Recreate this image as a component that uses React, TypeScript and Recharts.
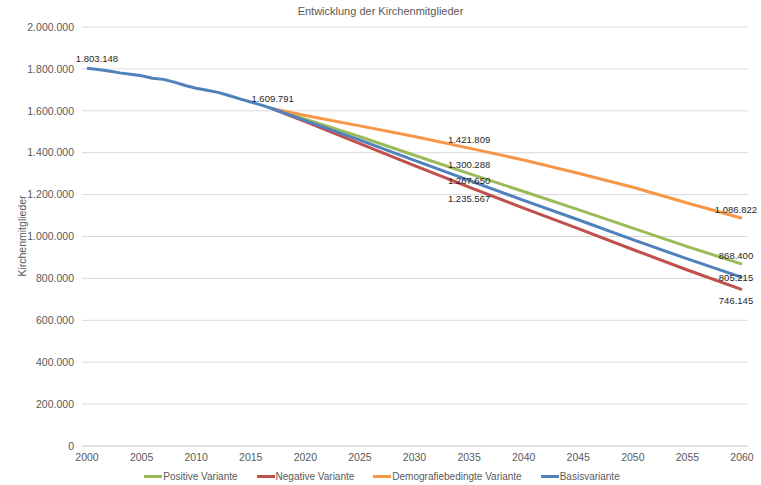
import { LineChart, Line, XAxis, YAxis, CartesianGrid, Legend } from "recharts";

const histYears = [2000, 2001, 2002, 2003, 2004, 2005, 2006, 2007, 2008, 2009, 2010, 2011, 2012, 2013, 2014, 2015, 2016, 2017];
const histValues = [1803148, 1797000, 1790000, 1781000, 1774000, 1767000, 1755000, 1750000, 1737000, 1721000, 1708000, 1698000, 1688000, 1673000, 1657000, 1642000, 1627000, 1609791];

const projYears = [2017, 2020, 2025, 2030, 2035, 2040, 2045, 2050, 2055, 2060];
const positiveValues = [1609791, 1560000, 1476000, 1388000, 1300288, 1215000, 1128000, 1040000, 952000, 868400];
const negativeValues = [1609791, 1548000, 1443000, 1338000, 1235567, 1135000, 1038000, 938000, 840000, 746145];
const demografieValues = [1609791, 1578000, 1528000, 1477000, 1421809, 1365000, 1302000, 1235000, 1160000, 1086822];
const basisValues = [1609791, 1553000, 1460000, 1363000, 1267650, 1172000, 1080000, 985000, 893000, 805215];

const xTicks = [2000, 2005, 2010, 2015, 2020, 2025, 2030, 2035, 2040, 2045, 2050, 2055, 2060];
const yTicks = [0, 200000, 400000, 600000, 800000, 1000000, 1200000, 1400000, 1600000, 1800000, 2000000];

// years that carry a data label
const labelYearsProj = [2035, 2060];
const labelYearsBasis = [2000, 2017, 2035, 2060];

const toRows = (years: number[], values: number[]) => years.map((year, i) => ({ year, v: values[i] }));

const positiveData = toRows(projYears, positiveValues);
const negativeData = toRows(projYears, negativeValues);
const demografieData = toRows(projYears, demografieValues);
const basisData = toRows(histYears, histValues).concat(toRows(projYears.slice(1), basisValues.slice(1)));

const FONT = "'Liberation Sans', Arial, sans-serif";
const fmt = (v: number) => String(v).replace(/\B(?=(\d{3})+(?!\d))/g, ".");

const series = [
  { name: "Positive Variante", color: "#9BBB59", data: positiveData, years: labelYearsProj, dy: -9 },
  { name: "Negative Variante", color: "#C0504D", data: negativeData, years: labelYearsProj, dy: 11 },
  { name: "Demografiebedingte Variante", color: "#F79646", data: demografieData, years: labelYearsProj, dy: -9 },
  { name: "Basisvariante", color: "#4F81BD", data: basisData, years: labelYearsBasis, dy: 0 },
];

function makeLabel(data: { year: number; v: number }[], years: number[], dy: number) {
  return (props: any) => {
    const { x, y, index } = props;
    const row = data[index];
    if (!row || !years.includes(row.year)) return null;
    let ddx = 0;
    let ddy = dy;
    if (row.year === 2000) {
      ddx = 10;
      ddy = -10;
    } else if (row.year === 2017) {
      ddy = -10;
    } else if (row.year === 2060) {
      ddx = -6;
    }
    return (
      <text
        key={`l-${index}`}
        x={x + ddx}
        y={y + ddy}
        textAnchor="middle"
        dominantBaseline="central"
        fontSize={9.5}
        fontFamily={FONT}
        fill="#262626"
      >
        {fmt(row.v)}
      </text>
    );
  };
}

function LegendContent() {
  return (
    <div
      style={{
        display: "flex",
        justifyContent: "center",
        gap: 19,
        fontFamily: FONT,
        fontSize: 10,
        color: "#595959",
        paddingLeft: 6,
        paddingTop: 5,
      }}
    >
      {series.map((s) => (
        <div key={s.name} style={{ display: "flex", alignItems: "center" }}>
          <span style={{ display: "inline-block", width: 18, height: 3, background: s.color, marginRight: 1 }} />
          <span>{s.name}</span>
        </div>
      ))}
    </div>
  );
}

export default function App() {
  return (
    <div style={{ position: "absolute", left: 0, top: 0, width: 761, height: 485, background: "#fff" }}>
      <div
        style={{
          position: "absolute",
          top: 5,
          left: 0,
          width: 761,
          textAlign: "center",
          fontFamily: FONT,
          fontSize: 11,
          color: "#595959",
        }}
      >
        Entwicklung der Kirchenmitglieder
      </div>
      <LineChart width={761} height={485} margin={{ top: 27, right: 13, left: 10, bottom: 0 }}>
        <CartesianGrid vertical={false} stroke="#d9d9d9" />
        <XAxis
          dataKey="year"
          type="number"
          domain={[2000, 2060]}
          ticks={xTicks}
          padding={{ left: 5, right: 6 }}
          tickLine={false}
          axisLine={{ stroke: "#d9d9d9" }}
          height={20}
          tick={{ fontSize: 10.5, fill: "#595959", fontFamily: FONT }}
          allowDuplicatedCategory={false}
        />
        <YAxis
          type="number"
          domain={[0, 2000000]}
          ticks={yTicks}
          width={72}
          tickLine={false}
          axisLine={false}
          tickFormatter={fmt}
          tick={{ fontSize: 10.5, fill: "#595959", fontFamily: FONT }}
          label={{
            content: () => (
              <text
                x={22}
                y={236}
                transform="rotate(-90 22 236)"
                textAnchor="middle"
                dominantBaseline="central"
                fontSize={10.5}
                fontFamily={FONT}
                fill="#595959"
              >
                Kirchenmitglieder
              </text>
            ),
          }}
        />
        <Legend verticalAlign="bottom" height={19} content={<LegendContent />} />
        {series.map((s) => (
          <Line
            key={s.name}
            data={s.data}
            dataKey="v"
            name={s.name}
            type="linear"
            stroke={s.color}
            strokeWidth={3}
            dot={false}
            activeDot={false}
            isAnimationActive={false}
            label={makeLabel(s.data, s.years, s.dy)}
          />
        ))}
      </LineChart>
    </div>
  );
}
